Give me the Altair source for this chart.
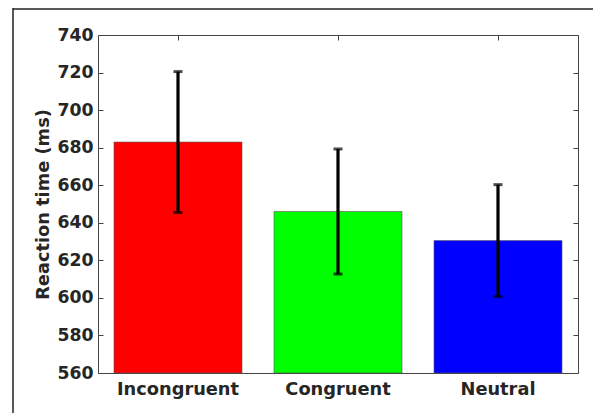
import altair as alt
import pandas as pd

categories = ["Incongruent", "Congruent", "Neutral"]
means = [683, 646, 630.5]
errors = [37.5, 33.3, 29.8]
colors = ["#FF0000", "#00FF00", "#0000FF"]
y_ticks = [560, 580, 600, 620, 640, 660, 680, 700, 720, 740]
y_base = 560

df = pd.DataFrame({
    "cat": categories,
    "mean": means,
    "lo": [m - e for m, e in zip(means, errors)],
    "hi": [m + e for m, e in zip(means, errors)],
    "color": colors,
})

FONT = "DejaVu Sans"
xscale = alt.Scale(domain=categories, paddingInner=0.2, paddingOuter=0.1)
yscale = alt.Scale(domain=[560, 740], nice=False, zero=False)

x_main = alt.X("cat:N", sort=categories, scale=xscale,
               axis=alt.Axis(orient="bottom", title=None, labelAngle=0, ticks=False,
                             domain=False, labelFont=FONT, labelFontSize=17.8,
                             labelFontWeight="bold", labelColor="#262626", labelPadding=7))
y_main = alt.Y("mean:Q", scale=yscale,
               axis=alt.Axis(orient="left", values=y_ticks, ticks=False, domain=False, grid=False,
                             labelFont=FONT, labelFontSize=17.3, labelFontWeight="bold",
                             labelColor="#262626", labelPadding=5,
                             title="Reaction time (ms)", titleFont=FONT, titleFontSize=17.8,
                             titleFontWeight="bold", titleColor="#262626", titlePadding=4))

bars = alt.Chart(df).mark_bar(stroke="#555555", strokeWidth=0.6).encode(
    x=x_main,
    y=y_main,
    y2=alt.datum(y_base),
    color=alt.Color("color:N", scale=None),
)

def tick_axis(orient):
    return alt.Axis(orient=orient, title=None, labels=False, domain=False, grid=False,
                    ticks=True, tickSize=5, tickColor="#444444", tickWidth=1, offset=-5,
                    values=y_ticks)

def x_tick_axis(orient):
    return alt.Axis(orient=orient, title=None, labels=False, domain=False, grid=False,
                    ticks=True, tickSize=5, tickColor="#444444", tickWidth=1, offset=-5)

ax1 = alt.Chart(df).mark_point(opacity=0).encode(
    x=alt.X("cat:N", sort=categories, scale=xscale, axis=x_tick_axis("top")),
    y=alt.Y("mean:Q", scale=yscale, axis=tick_axis("right")),
)
ax2 = alt.Chart(df).mark_point(opacity=0).encode(
    x=alt.X("cat:N", sort=categories, scale=xscale, axis=x_tick_axis("bottom")),
    y=alt.Y("mean:Q", scale=yscale, axis=tick_axis("left")),
)

err = alt.Chart(df).mark_rule(color="black", strokeWidth=3.2).encode(
    x=alt.X("cat:N", sort=categories, scale=xscale, axis=None),
    y=alt.Y("lo:Q", scale=yscale, axis=None),
    y2="hi:Q",
)
cap_lo = alt.Chart(df).mark_tick(color="black", thickness=3, size=9, orient="horizontal").encode(
    x=alt.X("cat:N", sort=categories, scale=xscale, axis=None),
    y=alt.Y("lo:Q", scale=yscale, axis=None),
)
cap_hi = alt.Chart(df).mark_tick(color="black", thickness=3, size=9, orient="horizontal").encode(
    x=alt.X("cat:N", sort=categories, scale=xscale, axis=None),
    y=alt.Y("hi:Q", scale=yscale, axis=None),
)

border_df = pd.DataFrame({"k": [0]})
left_border = alt.Chart(border_df).mark_rule(color="#222222", strokeWidth=1.5).encode(
    x=alt.value(-85), y=alt.value(-27), y2=alt.value(380))
top_border = alt.Chart(border_df).mark_rule(color="#222222", strokeWidth=1.5).encode(
    x=alt.value(-85), x2=alt.value(510), y=alt.value(-26))

chart = alt.layer(bars, ax1, ax2, err, cap_lo, cap_hi, left_border, top_border).resolve_axis(
    x="independent", y="independent"
).properties(
    width=480, height=338,
    autosize=alt.AutoSizeParams(type="none"),
    padding={"left": 90, "top": 27, "right": 15, "bottom": 40},
).configure_view(
    stroke="#444444", strokeWidth=1
)

chart.save("out.html", embed_options={"renderer": "svg", "actions": False})
